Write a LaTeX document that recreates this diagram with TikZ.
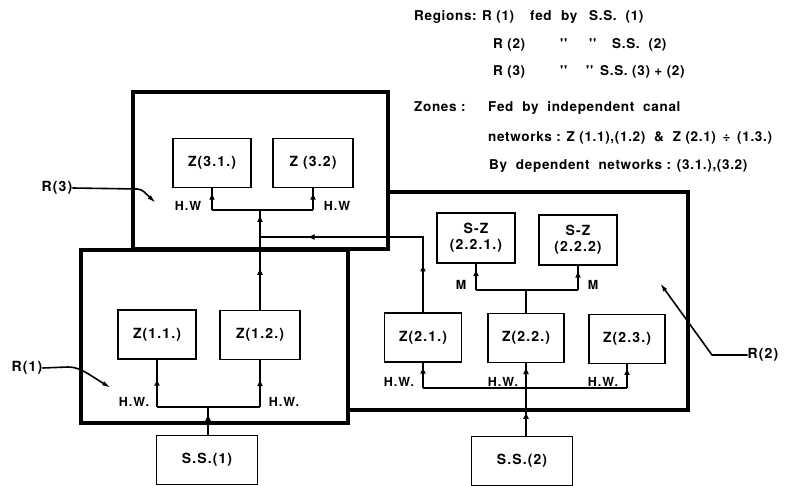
\documentclass[tikz,border=0pt]{standalone}
\usepackage{fontspec}
\setmainfont{TeX Gyre Heros}
\newfontfamily\lsf{TeX Gyre Heros}[LetterSpace=8]
\newfontfamily\lsg{TeX Gyre Heros}[LetterSpace=5]
\usetikzlibrary{arrows.meta,decorations.markings}
\newcommand\labfont{\lsf\fontsize{14}{16}\selectfont\bfseries}
\newcommand\hwfont{\lsf\fontsize{12.5}{14}\selectfont\bfseries}
\newcommand\txfont{\lsg\fontsize{13.5}{15}\selectfont\bfseries}
\begin{document}
\begin{tikzpicture}[x=1pt,y=-1pt,
  every node/.style={font=\labfont, inner sep=0pt},
  regionbox/.style={draw, line width=3.2pt},
  zbox/.style={draw, line width=1.8pt, minimum width=78pt, minimum height=49pt, align=center},
  ssbox/.style={draw, line width=1.8pt, minimum width=101pt, minimum height=49pt},
  conn/.style={line width=1.6pt},
  arr/.style={postaction={decorate,decoration={markings,mark=at position #1 with {\arrow{Latex[length=7pt,width=6pt]}}}}},
  leader/.style={line width=1.6pt},
  hw/.style={font=\hwfont},
  tx/.style={font=\txfont, anchor=base west}
]
\useasboundingbox (0,0) rectangle (808,486);

% regions
\draw[regionbox, line join=miter] (388,192) -- (688,192) -- (688,410) -- (348,410);
\node[regionbox, minimum width=255pt, minimum height=157pt] (R3) at (260.5,170.5) {};
\node[regionbox, minimum width=267pt, minimum height=173pt] (R1) at (214.5,336.5) {};

% zone boxes
\node[zbox] (z31) at (212,163) {Z(3.1.)};
\node[zbox, minimum width=80pt] (z32) at (313,163) {Z (3.2)};
\node[zbox] (z11) at (157,334.5) {Z(1.1.)};
\node[zbox, minimum width=80pt] (z12) at (260,335) {Z(1.2.)};
\node[ssbox] (ss1) at (207,460) {S.S.(1)};
\node[zbox, minimum width=77pt] (z21) at (423,337.5) {Z(2.1.)};
\node[zbox, minimum width=76pt] (z22) at (526,338) {Z(2.2.)};
\node[zbox, minimum width=76pt] (z23) at (627,339) {Z(2.3.)};
\node[zbox, minimum height=50pt] (sz1) at (476,238) {S-Z\\(2.2.1.)};
\node[zbox, minimum height=50pt] (sz2) at (578,240) {S-Z\\(2.2.2)};
\node[ssbox] (ss2) at (522,461) {S.S.(2)};

% region 1 network
\coordinate (b1) at (208,407);
\draw[conn,arr=0.75] (b1 |- ss1.north) -- (b1);
\draw[conn] (z11.south |- b1) -- (z12.south |- b1);
\draw[conn,arr=0.6] (z11.south |- b1) -- (z11.south);
\draw[conn,arr=0.6] (z12.south |- b1) -- (z12.south);

% region 3 network
\coordinate (b3) at (260,210);
\draw[conn,arr=0.42,arr=0.95] (z12.north) -- (b3);
\draw[conn] (z31.south |- b3) -- (z32.south |- b3);
\draw[conn,arr=0.8] (z31.south |- b3) -- (z31.south);
\draw[conn,arr=0.8] (z32.south |- b3) -- (z32.south);
\coordinate (j3) at (260,237);
\draw[conn,arr=0.2,arr=0.8] (z21.north) |- (j3);

% region 2 network
\coordinate (b2) at (526,388);
\draw[conn,arr=0.33,arr=0.95] (z22.south |- ss2.north) -- (z22.south);
\draw[conn] (z21.south |- b2) -- (z23.south |- b2);
\draw[conn,arr=0.85] (z21.south |- b2) -- (z21.south);
\draw[conn,arr=0.85] (z23.south |- b2) -- (z23.south);
\coordinate (bm) at (526,290);
\draw[conn] (z22.north) -- (bm);
\draw[conn] (sz1.south |- bm) -- (sz2.south |- bm);
\draw[conn,arr=0.8] (sz1.south |- bm) -- (sz1.south);
\draw[conn,arr=0.8] (sz2.south |- bm) -- (sz2.south);

% labels
\node[hw] (hw31) at (188,206) {H.W};
\node[hw] (hw32) at (337,206) {H.W};
\node[hw] (hw11) at (134,402) {H.W.};
\node[hw] (hw12) at (284,402) {H.W.};
\node[hw] (hw21) at (399,382) {H.W.};
\node[hw] (hw22) at (503,382) {H.W.};
\node[hw] (hw23) at (603,382) {H.W.};
\node[hw] (m1) at (461,285) {M};
\node[hw] (m2) at (593,285) {M};

% region labels
\node (r3l) at (57,188) {R(3)};
\coordinate (r3e) at (156,203);
\draw[leader,-{Latex[length=9pt,width=4.5pt]}] (r3l.east) -- (137,189) .. controls (143,189) and (146,194) .. (r3e);
\node (r1l) at (27,368) {R(1)};
\coordinate (r1e) at (111,388);
\draw[leader,-{Latex[length=9pt,width=4.5pt]}] (r1l.east) -- (68,367) .. controls (80,367) and (88,374) .. (r1e);
\node (r2l) at (763,355) {R(2)};
\coordinate (r2e) at (660,283);
\draw[leader,-{Latex[length=9pt,width=4.5pt]}] (r2l.west) -- (712,355) -- (r2e);

% legend text
\node[tx] (t1a) at (414,21) {Regions:};
\node[tx] (t1b) at (482,21) {R (1)};
\node[tx] (t1c) at (530,21) {fed};
\node[tx] (t1d) at (561,21) {by};
\node[tx] (t1e) at (589,21) {S.S.\ \ (1)};
\node[tx] (t2a) at (493,49) {R (2)};
\node[tx] (t2b) at (560,49) {''};
\node[tx] (t2c) at (589,49) {''};
\node[tx] (t2d) at (612,49) {S.S.\ \ (2)};
\node[tx] (t3a) at (493,76) {R (3)};
\node[tx] (t3b) at (560,76) {''};
\node[tx] (t3c) at (586,76) {''};
\node[tx] (t3d) at (600,76) {S.S.\ (3) + (2)};
\node[tx] (t4a) at (414,112) {Zones :};
\node[tx] (t4b) at (488,112) {Fed\ \ by\ \ independent\ \ canal};
\node[tx] (t5) at (488,142) {networks : Z (1.1),(1.2)\ \ \&\ \ Z (2.1) \,÷\, (1.3.)};
\node[tx] (t6) at (489,170) {By\ \ dependent\ \ networks : (3.1.),(3.2)};
\end{tikzpicture}
\end{document}
